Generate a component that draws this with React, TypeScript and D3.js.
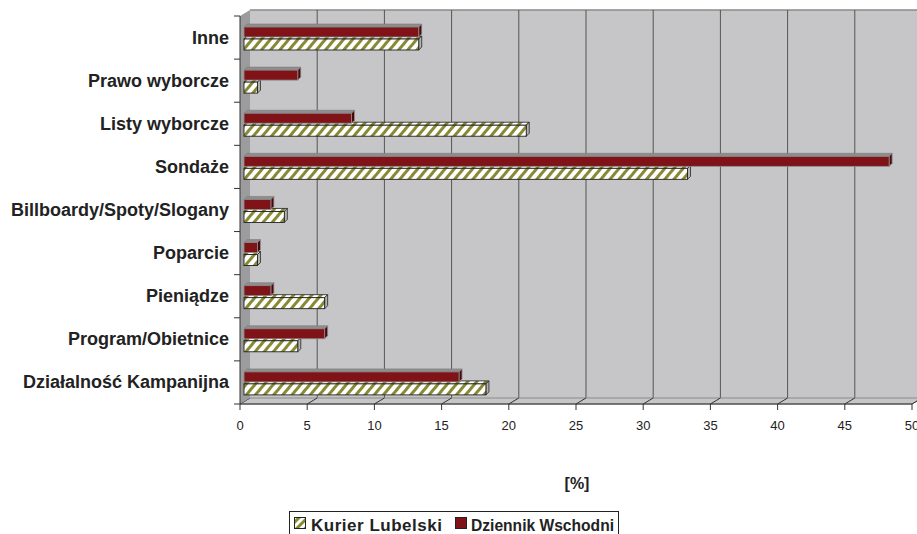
import React from "react";
import * as d3 from "d3";

// Categories listed from the bottom of the chart upward
const categories = [
  "Działalność Kampanijna",
  "Program/Obietnice",
  "Pieniądze",
  "Poparcie",
  "Billboardy/Spoty/Slogany",
  "Sondaże",
  "Listy wyborcze",
  "Prawo wyborcze",
  "Inne",
];
const kurierLubelski = [18, 4, 6, 1, 3, 33, 21, 1, 13];
const dziennikWschodni = [16, 6, 2, 1, 2, 48, 8, 4, 13];
const xTicks = [0, 5, 10, 15, 20, 25, 30, 35, 40, 45, 50];
const seriesNames = ["Kurier Lubelski", "Dziennik Wschodni"];

const W = 917;
const H = 534;
const FONT = "Arial, 'Liberation Sans', Helvetica, sans-serif";

// plot frame (front plane) and depth offset of the back wall
const left = 240;
const right = 912;
const top = 16;
const bottom = 404;
const DX = 10;
const DY = -6;

const RED = "#7f1318";
const RED_END = "#4a080b";
const HATCH = "#878a32";

export default function App() {
  const x = d3.scaleLinear().domain([0, 50]).range([left, right]);
  const y = d3
    .scaleBand<string>()
    .domain([...categories].reverse())
    .range([top, bottom]);
  const band = y.bandwidth();

  // bars sit slightly back from the front plane
  const bx = 4;
  const depth = 3;

  const redBar = (v: number, yTop: number, key: string) => {
    const x0 = x(0) + bx;
    const x1 = x(v) + bx;
    const h = 10;
    return (
      <g key={key}>
        {/* top face */}
        <polygon
          points={`${x0},${yTop} ${x1},${yTop} ${x1 + depth},${yTop - depth} ${x0 + depth},${yTop - depth}`}
          fill="#8e8e8e"
          stroke="#7a7a7a"
          strokeWidth={0.6}
        />
        {/* end face */}
        <polygon
          points={`${x1},${yTop} ${x1 + depth},${yTop - depth} ${x1 + depth},${yTop + h - depth} ${x1},${yTop + h}`}
          fill={RED_END}
          stroke="#8e8e8e"
          strokeWidth={0.8}
        />
        <rect x={x0} y={yTop} width={x1 - x0} height={h} fill={RED} stroke="#8e8e8e" strokeWidth={0.8} />
      </g>
    );
  };

  const hatchBar = (v: number, yTop: number, key: string) => {
    const x0 = x(0) + bx;
    const x1 = x(v) + bx;
    const h = 11;
    return (
      <g key={key}>
        <polygon
          points={`${x0},${yTop} ${x1},${yTop} ${x1 + depth},${yTop - depth} ${x0 + depth},${yTop - depth}`}
          fill="url(#hatch)"
          stroke="#222"
          strokeWidth={0.8}
        />
        <polygon
          points={`${x1},${yTop} ${x1 + depth},${yTop - depth} ${x1 + depth},${yTop + h - depth} ${x1},${yTop + h}`}
          fill="#b4b4b4"
          stroke="#222"
          strokeWidth={0.8}
        />
        <rect x={x0} y={yTop} width={x1 - x0} height={h} fill="url(#hatch)" stroke="#222" strokeWidth={0.9} />
      </g>
    );
  };

  return (
    <svg
      width={W}
      height={H}
      style={{ position: "absolute", left: 0, top: 0, background: "#fff" }}
      fontFamily={FONT}
    >
      <defs>
        <pattern id="hatch" patternUnits="userSpaceOnUse" width={7} height={7} patternTransform="rotate(40)">
          <rect width={7} height={7} fill="#fff" />
          <rect width={3} height={7} fill={HATCH} />
        </pattern>
        <pattern id="hatchLegend" patternUnits="userSpaceOnUse" width={6} height={6} patternTransform="rotate(45)">
          <rect width={6} height={6} fill="#fff" />
          <rect width={3} height={6} fill={HATCH} />
        </pattern>
      </defs>

      {/* back wall */}
      <rect
        x={left + DX}
        y={top + DY}
        width={W - (left + DX)}
        height={bottom - top}
        fill="#c6c6c8"
      />
      <line x1={left + DX} x2={W} y1={top + DY} y2={top + DY} stroke="#8a8a8a" strokeWidth={1.5} />

      {/* gridlines on the back wall */}
      {xTicks.slice(1).map((t) => (
        <line
          key={`g${t}`}
          x1={x(t) + DX}
          x2={x(t) + DX}
          y1={top + DY}
          y2={bottom + DY}
          stroke="#555"
          strokeWidth={1}
        />
      ))}

      {/* floor */}
      <polygon
        points={`${left},${bottom} ${right},${bottom} ${right + DX},${bottom + DY} ${left + DX},${bottom + DY}`}
        fill="#c6c6c8"
        stroke="#8a8a8a"
        strokeWidth={1}
      />
      {xTicks.map((t) => (
        <line
          key={`f${t}`}
          x1={x(t)}
          y1={bottom}
          x2={x(t) + DX}
          y2={bottom + DY}
          stroke="#333"
          strokeWidth={1}
        />
      ))}

      {/* left side wall */}
      <polygon
        points={`${left},${top} ${left + DX},${top + DY} ${left + DX},${bottom + DY} ${left},${bottom}`}
        fill="#9c9c9e"
      />

      {/* bars */}
      {categories.map((c, i) => {
        const y0 = y(c)!;
        return (
          <g key={c}>
            {hatchBar(kurierLubelski[i], y0 + 23, `k${i}`)}
            {redBar(dziennikWschodni[i], y0 + 11, `d${i}`)}
          </g>
        );
      })}

      {/* axes */}
      <line x1={left} x2={left} y1={top} y2={bottom} stroke="#333" strokeWidth={1} />
      <line x1={left} x2={right} y1={bottom} y2={bottom} stroke="#333" strokeWidth={1} />
      {[...y.domain().map((d) => y(d)!), bottom].map((yy, i) => (
        <line key={`yt${i}`} x1={left - 6} x2={left} y1={yy} y2={yy} stroke="#333" strokeWidth={1} />
      ))}
      {xTicks.map((t) => (
        <g key={`xt${t}`}>
          <line x1={x(t)} x2={x(t)} y1={bottom} y2={bottom + 6} stroke="#333" strokeWidth={1} />
          <text x={x(t)} y={bottom + 26} textAnchor="middle" fontSize={13} fill="#222">
            {t}
          </text>
        </g>
      ))}

      {/* category labels */}
      {categories.map((c) => (
        <text
          key={`l${c}`}
          x={229}
          y={y(c)! + band / 2 + 6}
          textAnchor="end"
          fontSize={18}
          fontWeight="bold"
          fill="#222"
        >
          {c}
        </text>
      ))}

      {/* axis title */}
      <text x={577} y={489} textAnchor="middle" fontSize={16} fontWeight="bold" fill="#222">
        [%]
      </text>

      {/* legend */}
      <rect x={289.5} y={511.5} width={329} height={30} fill="#fff" stroke="#222" strokeWidth={1} />
      <rect x={294.5} y={517.5} width={11} height={11} fill="url(#hatchLegend)" stroke="#222" strokeWidth={1} />
      <text x={311} y={531} fontSize={17} fontWeight="bold" fill="#222" textLength={131} lengthAdjust="spacing">
        {seriesNames[0]}
      </text>
      <rect x={455.5} y={517.5} width={11} height={11} fill={RED} stroke="#222" strokeWidth={1} />
      <text x={471} y={531} fontSize={17} fontWeight="bold" fill="#222" textLength={143} lengthAdjust="spacingAndGlyphs">
        {seriesNames[1]}
      </text>
    </svg>
  );
}
